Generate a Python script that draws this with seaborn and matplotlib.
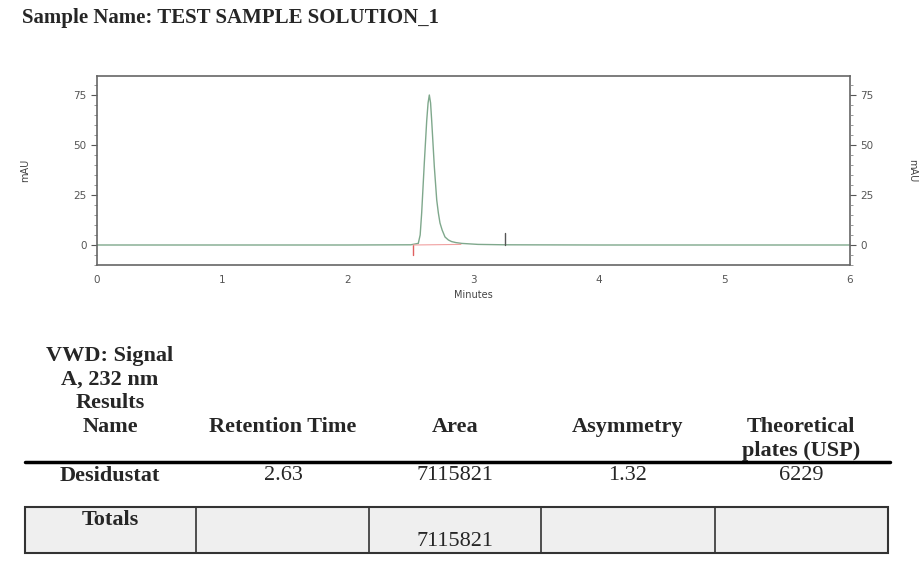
import matplotlib
matplotlib.use("Agg")
import matplotlib.pyplot as plt
import seaborn as sns
import pandas as pd
from matplotlib.lines import Line2D
from matplotlib.patches import Rectangle
from matplotlib.ticker import MultipleLocator

# chromatogram
time_min = [0.0, 1.0, 2.0, 2.50, 2.56, 2.575, 2.587, 2.608, 2.627, 2.638, 2.648,
            2.658, 2.667, 2.688, 2.707, 2.72, 2.733, 2.75, 2.773, 2.80, 2.826,
            2.86, 2.906, 3.036, 3.25, 4.0, 5.0, 6.0]
signal_mau = [0, 0, 0, 0.1, 0.8, 5, 16, 41, 62, 71, 75,
              71, 62, 39, 22.5, 16, 11, 7.5, 4, 2.5, 1.7,
              1.2, 0.8, 0.3, 0.1, 0, 0, 0]
baseline_start = 2.52
baseline_end = 2.90
event_mark = 3.25

# results table
headers = ["VWD: Signal\nA, 232 nm\nResults\nName", "Retention Time", "Area",
           "Asymmetry", "Theoretical\nplates (USP)"]
row_values = ["Desidustat", "2.63", "7115821", "1.32", "6229"]
totals = ["Totals", "", "7115821", "", ""]

W, H = 922, 567
fig = plt.figure(figsize=(W / 100, H / 100), dpi=100)
sns.set_style("white")
plt.rcParams["font.family"] = ["DejaVu Sans"]

ax = fig.add_axes([97 / W, 1 - 265 / H, (850 - 97) / W, (265 - 76) / H])
df = pd.DataFrame({"time": time_min, "signal": signal_mau})
sns.lineplot(data=df, x="time", y="signal", ax=ax, color="#7fa88c", linewidth=1.0)
ax.plot([baseline_start, baseline_start], [-5, 0], color="#e06060", lw=1.0)
ax.plot([baseline_start, baseline_end], [0, 0.3], color="#f0a0a0", lw=0.8)
ax.plot([event_mark, event_mark], [0, 6], color="#555555", lw=1.0)

ax.set_xlim(0, 6)
ax.set_ylim(-10, 84.5)
ax.set_yticks([0, 25, 50, 75])
ax.set_xticks(range(0, 7))
ax.xaxis.set_minor_locator(MultipleLocator(0.1))
ax.yaxis.set_minor_locator(MultipleLocator(5))
ax.set_xlabel("Minutes", fontsize=7, color="#444444", labelpad=3)
ax.set_ylabel("mAU", fontsize=7, color="#444444")
ax.yaxis.set_label_coords(-0.089, 0.5)
for s in ax.spines.values():
    s.set_color("#666666")
    s.set_linewidth(1.2)
ax.tick_params(axis="both", which="major", labelsize=7.5, colors="#555555",
               length=4, width=0.8, direction="out")
ax.tick_params(axis="both", which="minor", length=2, width=0.6, colors="#888888")

ax2 = ax.twinx()
ax2.set_ylim(ax.get_ylim())
ax2.set_yticks([0, 25, 50, 75])
ax2.yaxis.set_minor_locator(MultipleLocator(5))
ax2.tick_params(axis="y", which="major", labelsize=7.5, colors="#555555", length=4, width=0.8)
ax2.tick_params(axis="y", which="minor", length=2, width=0.6, colors="#888888")
ax2.set_ylabel("mAU", fontsize=7, color="#444444", rotation=270, va="center")
ax2.yaxis.set_label_coords(1.083, 0.5)
for s in ax2.spines.values():
    s.set_visible(False)

serif = ["Liberation Serif", "DejaVu Serif"]
fs = 16

def fy(y):
    return 1 - y / H

fig.text(22 / W, fy(18), "Sample Name: TEST SAMPLE SOLUTION_1", family=serif,
         fontsize=15, fontweight="bold", ha="left", va="center")

col_x = [110, 283, 455, 628, 801]
col_edges = [25, 196, 369, 541, 715, 888]

# header lines placed one by one
for k, line in enumerate(headers[0].split("\n")):
    fig.text(col_x[0] / W, fy(356 + 23.7 * k), line, family=serif, fontsize=fs,
             fontweight="bold", ha="center", va="center")
for i in (1, 2, 3):
    fig.text(col_x[i] / W, fy(427), headers[i], family=serif, fontsize=fs,
             fontweight="bold", ha="center", va="center")
for k, line in enumerate(headers[4].split("\n")):
    fig.text(col_x[4] / W, fy(427 + 24 * k), line, family=serif, fontsize=fs,
             fontweight="bold", ha="center", va="center")

fig.add_artist(Line2D([25 / W, 890 / W], [fy(462), fy(462)], color="black", lw=2.5))

for i, v in enumerate(row_values):
    fig.text(col_x[i] / W, fy(476), v, family=serif, fontsize=fs,
             fontweight="bold" if i == 0 else "normal", ha="center", va="center")

# totals box
fig.add_artist(Rectangle((25 / W, fy(553)), (888 - 25) / W, (553 - 507) / H,
                         facecolor="#efefef", edgecolor="#333333", lw=1.5))
for xe in col_edges[1:-1]:
    fig.add_artist(Line2D([xe / W, xe / W], [fy(507), fy(553)], color="#333333", lw=1.2))
fig.text(col_x[0] / W, fy(520), totals[0], family=serif, fontsize=fs, fontweight="bold",
         ha="center", va="center")
for i in range(1, 5):
    if totals[i]:
        fig.text(col_x[i] / W, fy(541), totals[i], family=serif, fontsize=fs,
                 ha="center", va="center")

fig.savefig("out.png", dpi=100)
